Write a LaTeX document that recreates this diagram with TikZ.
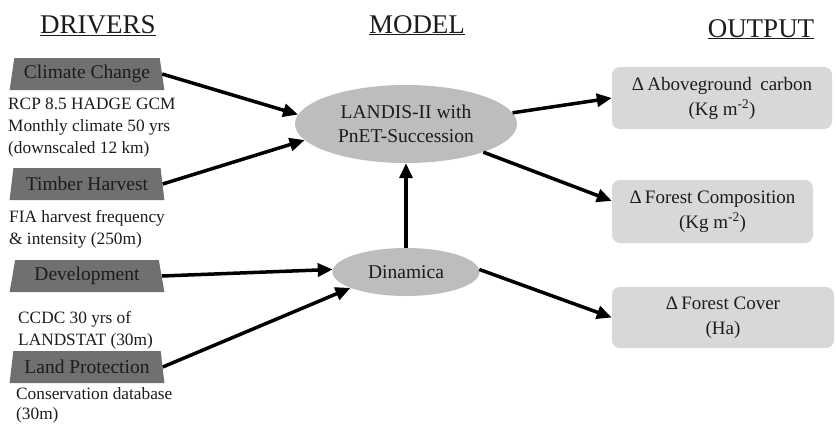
\documentclass[tikz,border=0pt]{standalone}
\usepackage{fontspec}
\setmainfont{Liberation Serif}
\usetikzlibrary{shapes.geometric,arrows.meta,calc}
\definecolor{drvfill}{HTML}{707070}
\definecolor{elfill}{HTML}{BDBDBD}
\definecolor{boxfill}{HTML}{D8D8D8}
\definecolor{txt}{HTML}{1C1C1C}
\begin{document}
\begin{tikzpicture}[x=1pt,y=-1pt,
 heading/.style={font=\fontsize{27}{30}\selectfont, anchor=base, inner sep=0, text=txt},
 driver/.style={trapezium, trapezium left angle=77, trapezium right angle=77, trapezium stretches=true,
   fill=drvfill, minimum width=155pt, minimum height=32pt, inner sep=0, text=txt,
   font=\fontsize{19.5}{22}\selectfont},
 note/.style={anchor=north west, inner sep=0, align=left, text=txt, font=\fontsize{17.3}{22}\selectfont},
 model/.style={ellipse, fill=elfill, inner sep=0, align=center, text=txt, font=\fontsize{19.5}{24}\selectfont},
 outbox/.style={rectangle, rounded corners=8pt, fill=boxfill, inner sep=0, align=center, text=txt,
   font=\fontsize{19}{25}\selectfont},
 flow/.style={line width=3.5pt, -{Triangle[length=15pt,width=13pt]}}
]
\useasboundingbox (0,0) rectangle (836,424);
\fill[white] (0,0) rectangle (836,424);

% headings
\node[heading] (hd) at (98,33) {\underline{DRIVERS}};
\node[heading] (hm) at (417,33) {\underline{MODEL}};
\node[heading] (ho) at (761,37) {\underline{OUTPUT}};

% drivers
\node[driver] (cc)  at (87,74)  {Climate Change};
\node[driver] (th)  at (87,184) {Timber Harvest};
\node[driver] (dev) at (87,276) {Development};
\node[driver] (lp)  at (87,367) {Land Protection};

\node[note] (ccn)  at (8,98)  {RCP 8.5 HADGE GCM\\Monthly climate 50 yrs\\(downscaled 12 km)};
\node[note] (thn)  at (9,210) {FIA harvest frequency\\\& intensity (250m)};
\node[note] (devn) at (18,311) {CCDC 30 yrs of\\LANDSTAT (30m)};
\node[note, font=\fontsize{17.3}{20.5}\selectfont] (lpn)  at (16,387) {Conservation database\\(30m)};

% model
\node[model, minimum width=222pt, minimum height=78pt] (landis) at (406,124) {LANDIS-II with\\PnET-Succession};
\node[model, minimum width=147pt, minimum height=48pt] (dina) at (406,272) {Dinamica};

% outputs
\node[outbox, minimum width=220pt, minimum height=62pt] (ab)  at (722,98)  {Δ\,Aboveground\hspace{0.45em}carbon\\(Kg m\textsuperscript{-2})};
\node[outbox, minimum width=201pt, minimum height=63pt] (fc)  at (712.5,211.5) {Δ\,Forest Composition\\(Kg m\textsuperscript{-2})};
\node[outbox, minimum width=222pt, minimum height=61pt] (cov) at (723,317.5) {Δ\,Forest Cover\\(Ha)};

% connectors
\draw[flow] (cc.east) -- (landis.175);
\draw[flow] (th.east) -- (landis.189);
\draw[flow] (dev.east) -- (dina.178);
\draw[flow] (lp.east) -- (dina.196);
\draw[flow] (dina.north) -- (landis.south);
\draw[flow] (landis.6) -- (ab.west);
\draw[flow] (landis.340) -- (fc.174);
\draw[flow] (dina.2) -- (cov.west);
\end{tikzpicture}
\end{document}
